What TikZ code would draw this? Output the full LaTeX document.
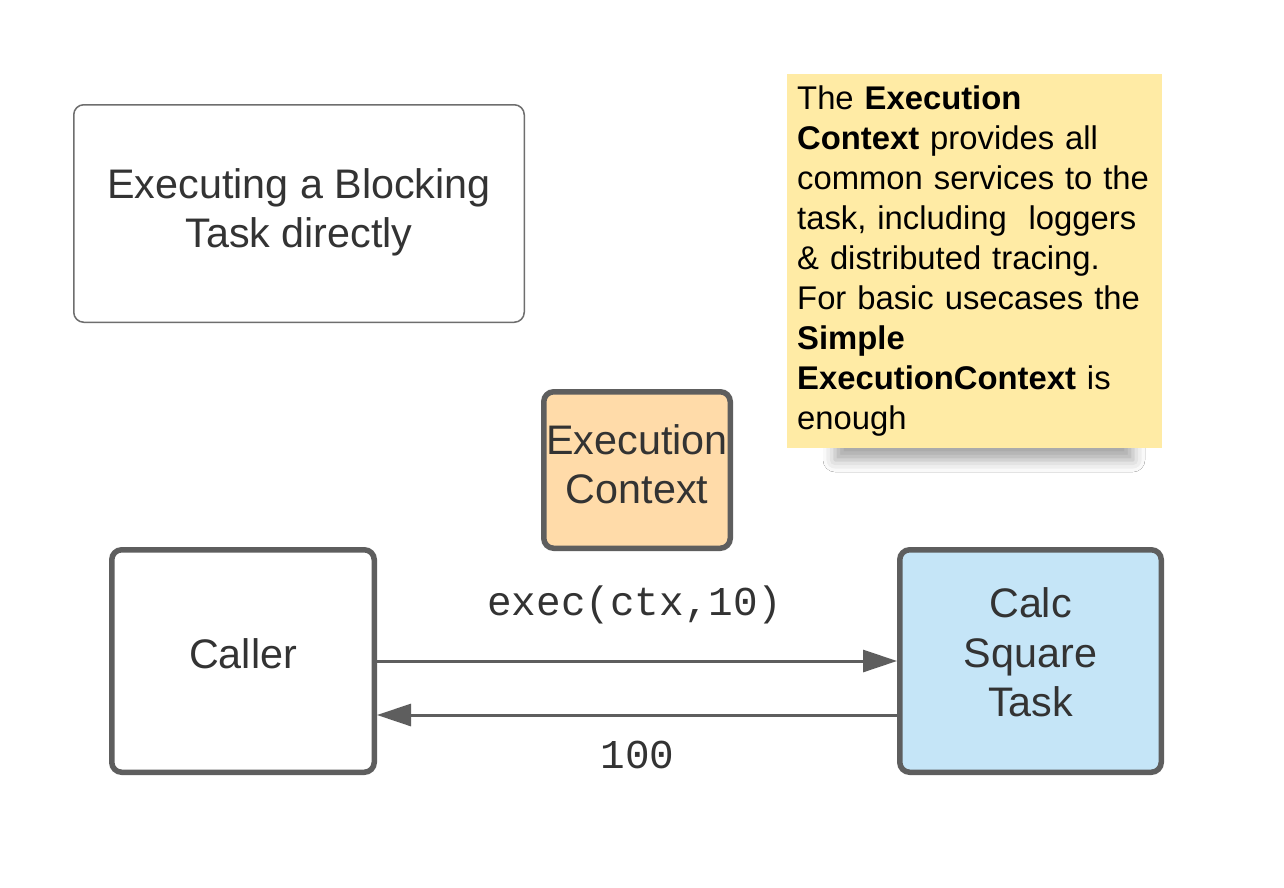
\documentclass[tikz,border=0pt]{standalone}
\usepackage{fontspec}
\setmainfont{Liberation Sans}
\newfontfamily\monofont{Liberation Mono}
\usetikzlibrary{arrows.meta,shadows.blur}
\definecolor{bord}{HTML}{5E5E5E}
\definecolor{thinbord}{HTML}{6E6E6E}
\definecolor{txtc}{HTML}{333333}
\definecolor{ecfill}{HTML}{FFDBA9}
\definecolor{taskfill}{HTML}{C5E5F7}
\definecolor{notefill}{HTML}{FFEBA5}
\begin{document}
\begin{tikzpicture}[x=1pt,y=-1pt,
  thickbox/.style={draw=bord, line width=5.5pt, rounded corners=10pt, inner sep=0pt},
  thinbox/.style={draw=thinbord, line width=1.5pt, rounded corners=10pt, inner sep=0pt},
  lbl/.style={text=txtc, font=\fontsize{41.3}{49.5}\selectfont, align=center, inner sep=0pt},
  notetext/.style={text=black, font=\fontsize{32.8}{40}\selectfont, align=left, inner sep=0pt, text width=362pt},
  monolbl/.style={text=txtc, font=\monofont\fontsize{41}{45}\selectfont, inner sep=0pt},
  arr/.style={draw=bord, line width=3pt, -{Triangle[length=34pt,width=22pt]}}
]
\useasboundingbox[fill=white] (0,0) rectangle (1284,887);

% title
\node[thinbox, minimum width=450.5pt, minimum height=217.5pt] (title) at (299,213.5) {};
\node[lbl] (titletext) at ([yshift=1pt]title.center) {Executing a Blocking\\Task directly};

% note with shadow
\path[blur shadow={shadow xshift=0pt, shadow yshift=-8pt, shadow blur radius=12pt, shadow opacity=35}] (835,428) rectangle (1133,452);
\node[fill=notefill, minimum width=375pt, minimum height=374pt, inner sep=0pt] (note) at (974.5,261) {};
\node[notetext, anchor=north west] (notetxt) at (797,86) {The \textbf{Execution}\\\textbf{Context} provides all\\common services to the\\task, including\ \ loggers\\\& distributed tracing.\\For basic usecases the\\\textbf{Simple}\\\textbf{ExecutionContext} is\\enough};

% execution context
\node[thickbox, fill=ecfill, minimum width=186.5pt, minimum height=156.5pt] (ec) at (637,470) {};
\node[lbl] (ectext) at ([yshift=6pt]ec.center) {Execution\\Context};

% caller
\node[thickbox, fill=white, minimum width=262.5pt, minimum height=222.5pt] (caller) at (243,661) {};
\node[lbl, anchor=base] (callertext) at (243,668) {Caller};

% task
\node[thickbox, fill=taskfill, minimum width=261.5pt, minimum height=222.5pt] (task) at (1030.5,661) {};
\node[lbl] (tasktext) at ([yshift=8.5pt]task.center) {Calc\\Square\\Task};

% arrows
\draw[arr] (caller.east) -- (task.west);
\draw[arr] ([yshift=-54pt]task.west) -- ([yshift=-54pt]caller.east);

\node[monolbl, anchor=base] (calllbl) at (635,615) {exec(ctx,10)};
\node[monolbl, anchor=base] (retlbl) at (637.5,768) {100};
\end{tikzpicture}
\end{document}
